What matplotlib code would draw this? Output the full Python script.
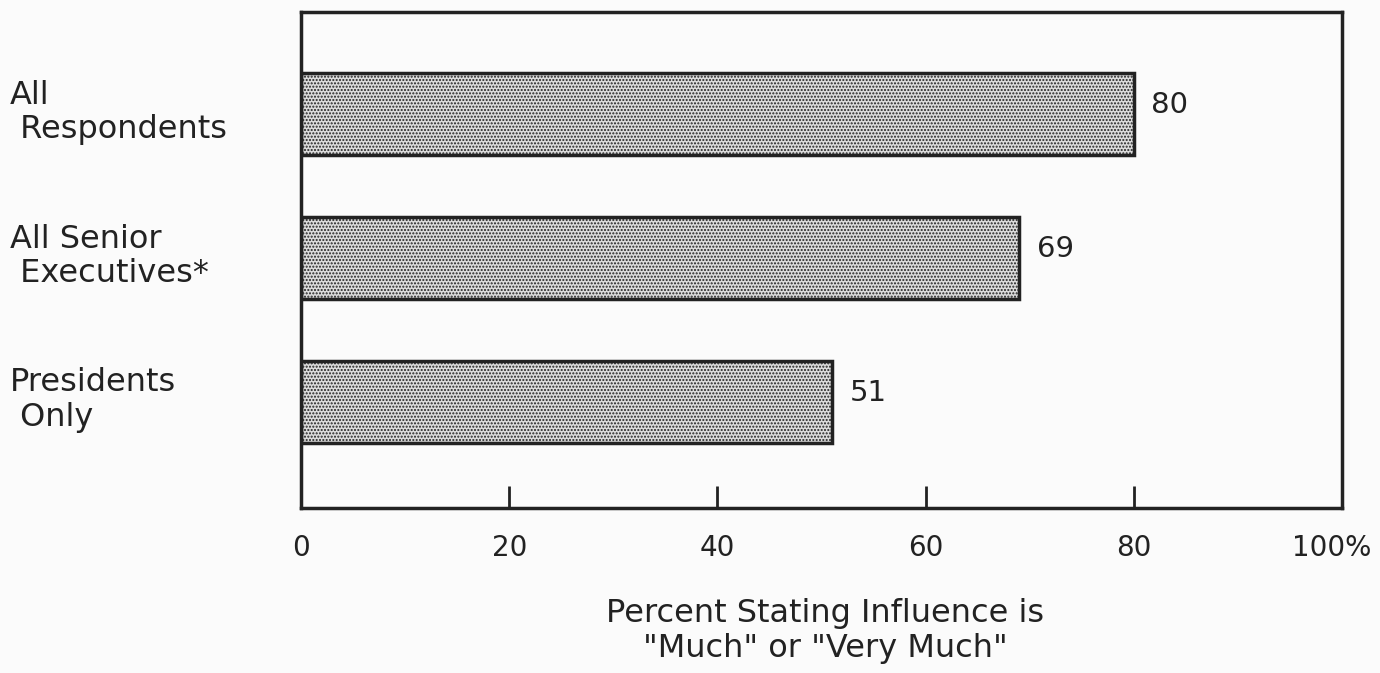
from matplotlib import pyplot as plt
import matplotlib.transforms as mtransforms

categories = ['All\n Respondents', 'All Senior\n Executives*', 'Presidents\n Only']
values = [80, 69, 51]
tick_values = [0, 20, 40, 60, 80, 100]
tick_labels = ['0', '20', '40', '60', '80', '100%']

plt.rcParams['hatch.color'] = '#555555'
plt.rcParams['hatch.linewidth'] = 1.0

fig = plt.figure(figsize=(13.8, 6.73), dpi=100, facecolor='#fbfbfb')
ax = fig.add_axes([301 / 1380, 1 - 508 / 673, 1041 / 1380, 496 / 673])
ax.set_facecolor('#fbfbfb')

y = list(range(len(values)))
ax.barh(y, values, height=0.57, color='#dcdcdc', edgecolor='#222222',
        linewidth=2.5, hatch='.....', zorder=2)

ax.set_xlim(0, 100)
ax.set_ylim(2.74, -0.71)
ax.set_yticks([])
ax.set_xticks(tick_values[1:-1])
ax.set_xticklabels([])
ax.tick_params(axis='x', direction='in', length=16, width=2, color='#222222')
for s in ax.spines.values():
    s.set_linewidth(2.5)
    s.set_color('#222222')

# tick labels drawn below the axis; the last one kept inside the figure
for v, lab in zip(tick_values, tick_labels):
    xs = v if v < 100 else 99.0
    ax.text(xs, -0.08, lab, transform=ax.get_xaxis_transform(), ha='center',
            va='center', fontsize=20, color='#222222')

# value labels
for yi, v in zip(y, values):
    ax.text(v + 1.7, yi - 0.06, str(v), ha='left', va='center',
            fontsize=21, color='#222222')

# category labels, left aligned near figure edge
trans = mtransforms.blended_transform_factory(fig.transFigure, ax.transData)
for yi, lab in zip(y, categories):
    ax.text(10 / 1380, yi - 0.01, lab, transform=trans, ha='left', va='center',
            fontsize=23, color='#222222', linespacing=1.15)

fig.text(825 / 1380, 1 - 631 / 673,
         'Percent Stating Influence is\n"Much" or "Very Much"',
         ha='center', va='center', fontsize=23, color='#222222', linespacing=1.2)

plt.savefig('out.png', dpi=100, facecolor=fig.get_facecolor())
plt.close()
